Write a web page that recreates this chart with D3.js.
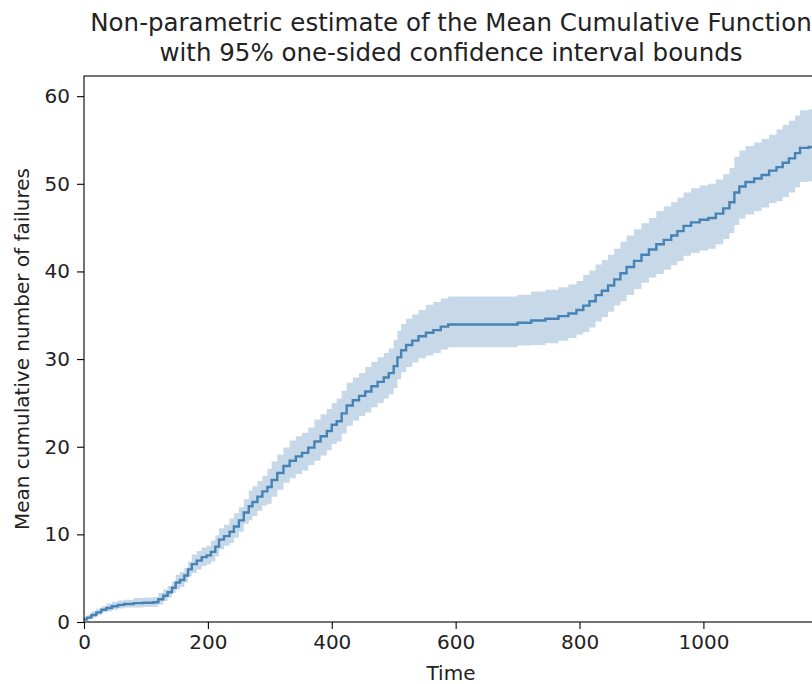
<!DOCTYPE html>
<html>
<head>
<meta charset="utf-8">
<script src="https://cdn.jsdelivr.net/npm/d3@7"></script>
<style>
  html, body { margin: 0; padding: 0; background: #fff; }
  svg { display: block; font-family: "DejaVu Sans", sans-serif; }
</style>
</head>
<body>
<svg id="chart" width="812" height="684"></svg>
<script>
// Event times and the non-parametric MCF estimate (step function, post)
const times = [0, 5, 12, 20, 28, 36, 45, 55, 65, 80, 95, 112, 120, 128, 135, 142, 148, 155, 162, 168,
  174, 182, 190, 198, 205, 212, 218, 226, 235, 242, 250, 258, 266, 272, 280, 288, 296, 303, 312, 322,
  332, 342, 352, 362, 372, 382, 392, 400, 408, 416, 424, 434, 444, 454, 464, 474, 484, 492, 500, 506,
  512, 520, 530, 540, 552, 564, 576, 588, 700, 722, 745, 766, 782, 795, 806, 816, 826, 836, 846, 856,
  866, 876, 888, 900, 912, 924, 936, 948, 958, 968, 980, 994, 1008, 1020, 1032, 1042, 1050, 1058, 1068, 1082,
  1094, 1106, 1118, 1128, 1138, 1148, 1156, 1170, 1178];

const mcf = [0.3, 0.5, 0.8, 1.1, 1.4, 1.6, 1.8, 1.95, 2.05, 2.15, 2.2, 2.25, 2.6, 3.0, 3.4, 3.9, 4.5, 4.8, 5.3, 6.0,
  6.6, 7.0, 7.4, 7.6, 8.0, 8.6, 9.4, 9.8, 10.3, 10.9, 11.6, 12.5, 13.2, 13.7, 14.3, 14.9, 15.4, 16.2, 17.0, 17.8,
  18.4, 18.9, 19.3, 19.9, 20.6, 21.2, 21.8, 22.5, 22.9, 23.8, 24.7, 25.3, 25.8, 26.3, 26.9, 27.4, 27.9, 28.4, 29.2, 30.2,
  31.0, 31.6, 32.1, 32.6, 33.0, 33.3, 33.7, 33.95, 34.15, 34.4, 34.6, 34.9, 35.2, 35.6, 36.1, 36.6, 37.3, 37.8, 38.4, 39.1,
  39.8, 40.5, 41.2, 41.9, 42.5, 43.1, 43.6, 44.1, 44.6, 45.2, 45.6, 45.9, 46.1, 46.6, 47.2, 47.9, 49.0, 49.7, 50.2, 50.6,
  51.0, 51.5, 51.9, 52.4, 52.9, 53.5, 54.1, 54.2, 55.0];

// 95% one-sided confidence bounds at the same times
const upper = [0.6, 0.8, 1.2, 1.5, 1.8, 2.1, 2.3, 2.45, 2.55, 2.75, 2.8, 2.85, 3.3, 3.7, 4.1, 4.6, 5.4, 5.7, 6.2, 6.9,
  7.7, 8.1, 8.5, 8.7, 9.3, 9.9, 10.7, 11.1, 11.8, 12.4, 13.1, 14.0, 15.0, 15.5, 16.1, 16.7, 17.5, 18.3, 19.1, 19.9,
  20.7, 21.2, 21.6, 22.2, 23.1, 23.7, 24.3, 25.0, 25.5, 26.4, 27.3, 27.9, 28.4, 29.1, 29.7, 30.2, 30.7, 31.2, 32.2, 33.2,
  34.0, 34.6, 35.1, 35.6, 36.2, 36.5, 36.9, 37.15, 37.35, 37.7, 37.9, 38.2, 38.5, 38.9, 39.6, 40.1, 40.8, 41.3, 41.9, 42.6,
  43.4, 44.1, 44.8, 45.5, 46.1, 46.9, 47.4, 47.9, 48.4, 49.0, 49.5, 49.8, 50.0, 50.5, 51.1, 51.8, 53.1, 53.8, 54.3, 54.7,
  55.1, 55.6, 56.2, 56.7, 57.2, 57.8, 58.4, 58.5, 59.3];

const lower = [0.1, 0.3, 0.5, 0.8, 1.1, 1.2, 1.4, 1.55, 1.65, 1.65, 1.7, 1.75, 2.0, 2.4, 2.8, 3.3, 3.7, 4.0, 4.5, 5.2,
  5.6, 6.0, 6.4, 6.6, 6.9, 7.5, 8.3, 8.7, 9.0, 9.6, 10.3, 11.2, 11.6, 12.1, 12.7, 13.3, 13.5, 14.3, 15.1, 15.9,
  16.4, 16.9, 17.3, 17.9, 18.4, 19.0, 19.6, 20.3, 20.6, 21.5, 22.4, 23.0, 23.5, 23.9, 24.5, 25.0, 25.5, 26.0, 26.7, 27.7,
  28.5, 29.1, 29.6, 30.1, 30.4, 30.7, 31.1, 31.35, 31.55, 31.6, 31.8, 32.1, 32.4, 32.8, 33.1, 33.6, 34.3, 34.8, 35.4, 36.1,
  36.6, 37.3, 38.0, 38.7, 39.3, 39.7, 40.2, 40.7, 41.2, 41.8, 42.1, 42.4, 42.6, 43.1, 43.7, 44.4, 45.3, 46.0, 46.5, 46.9,
  47.3, 47.8, 48.0, 48.5, 49.0, 49.6, 50.2, 50.3, 51.1];

const xTicks = [0, 200, 400, 600, 800, 1000];
const yTicks = [0, 10, 20, 30, 40, 50, 60];

const rows = times.map((t, i) => ({ t, m: mcf[i], lo: lower[i], hi: upper[i] }));

const svg = d3.select("#chart");
const plotLeft = 84, plotRight = 818, plotTop = 76, plotBottom = 622;

const x = d3.scaleLinear().domain([0, 1185]).range([plotLeft, plotRight]);
const y = d3.scaleLinear().domain([0, 62.3]).range([plotBottom, plotTop]);

svg.append("defs").append("clipPath").attr("id", "plotArea")
  .append("rect").attr("x", plotLeft).attr("y", plotTop)
  .attr("width", plotRight - plotLeft).attr("height", plotBottom - plotTop);

const plot = svg.append("g").attr("clip-path", "url(#plotArea)");

// confidence band
plot.append("path")
  .datum(rows)
  .attr("fill", "steelblue")
  .attr("fill-opacity", 0.3)
  .attr("d", d3.area().curve(d3.curveStepAfter)
    .x(d => x(d.t)).y0(d => y(d.lo)).y1(d => y(d.hi)));

// MCF estimate
plot.append("path")
  .datum(rows)
  .attr("fill", "none")
  .attr("stroke", "steelblue")
  .attr("stroke-width", 2.4)
  .attr("d", d3.line().curve(d3.curveStepAfter)
    .x(d => x(d.t)).y(d => y(d.m)));

// axes
const fs = 20;
const xAxis = svg.append("g").attr("transform", `translate(0,${plotBottom})`)
  .call(d3.axisBottom(x).tickValues(xTicks).tickFormat(d3.format("d"))
    .tickSize(7).tickPadding(6).tickSizeOuter(0));
const yAxis = svg.append("g").attr("transform", `translate(${plotLeft},0)`)
  .call(d3.axisLeft(y).tickValues(yTicks).tickFormat(d3.format("d"))
    .tickSize(7).tickPadding(7).tickSizeOuter(0));

[xAxis, yAxis].forEach(g => {
  g.select(".domain").remove();
  g.selectAll(".tick line").attr("stroke", "#000").attr("stroke-width", 1.1);
  g.selectAll(".tick text").attr("fill", "#222").style("font-size", fs + "px")
    .style("font-family", "'DejaVu Sans', sans-serif");
});

// frame
svg.append("rect")
  .attr("x", plotLeft).attr("y", plotTop)
  .attr("width", plotRight - plotLeft).attr("height", plotBottom - plotTop)
  .attr("fill", "none").attr("stroke", "#000").attr("stroke-width", 1.1);

// labels
const cx = (plotLeft + plotRight) / 2;
svg.append("text").attr("x", cx).attr("y", 680)
  .attr("text-anchor", "middle").attr("fill", "#222")
  .style("font-size", fs + "px").text("Time");

svg.append("text")
  .attr("transform", `translate(29,${(plotTop + plotBottom) / 2}) rotate(-90)`)
  .attr("text-anchor", "middle").attr("fill", "#222")
  .style("font-size", fs + "px").text("Mean cumulative number of failures");

const title = svg.append("text").attr("text-anchor", "middle").attr("fill", "#222")
  .style("font-size", "24.5px");
title.append("tspan").attr("x", cx).attr("y", 31)
  .text("Non-parametric estimate of the Mean Cumulative Function");
title.append("tspan").attr("x", cx).attr("y", 61)
  .text("with 95% one-sided confidence interval bounds");
</script>
</body>
</html>
